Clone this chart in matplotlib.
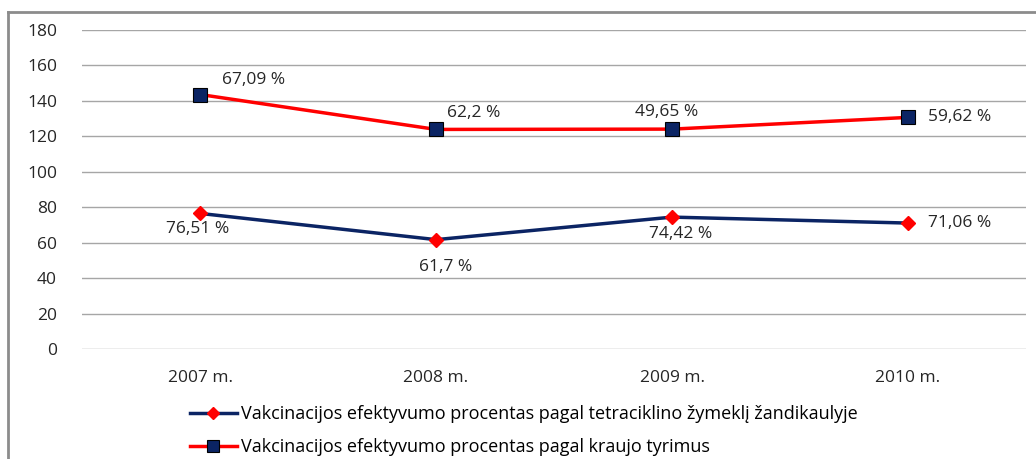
import numpy as np
import matplotlib.pyplot as plt
from matplotlib.lines import Line2D

plt.rcParams['font.family'] = ['Open Sans', 'DejaVu Sans']

# Duomenys
years = ['2007 m.', '2008 m.', '2009 m.', '2010 m.']
tetra = [76.51, 61.7, 74.42, 71.06]
kraujo = [67.09, 62.2, 49.65, 59.62]
tetra_labels = ['76,51 %', '61,7 %', '74,42 %', '71,06 %']
kraujo_labels = ['67,09 %', '62,2 %', '49,65 %', '59,62 %']
series_names = ['Vakcinacijos efektyvumo procentas pagal tetraciklino žymeklį žandikaulyje',
                'Vakcinacijos efektyvumo procentas pagal kraujo tyrimus']

x = np.arange(len(years))
stacked = np.array(tetra) + np.array(kraujo)

fig = plt.figure(figsize=(10.36, 4.59), dpi=100)
ax = fig.add_axes([82 / 1036, 1 - 349 / 459, 944 / 1036, 319 / 459])

navy = '#0b2464'
red = '#ff0000'
txt = '#262626'
fs = 12.5

ax.plot(x, tetra, color=navy, lw=2.5, marker='D', ms=7, mfc=red, mec=red, zorder=3)
ax.plot(x, stacked, color=red, lw=2.5, marker='s', ms=10, mfc=navy, mec='black', mew=0.8, zorder=3)

ax.set_xlim(-0.5, 3.5)
ax.set_ylim(0, 180)
ax.set_yticks(range(0, 181, 20))
ax.set_xticks(x)
ax.set_xticklabels(years)
ax.yaxis.grid(True, color='#a6a6a6', lw=1)
ax.set_axisbelow(True)
for s in ax.spines.values():
    s.set_visible(False)
ax.tick_params(length=0, labelsize=fs, colors=txt)
ax.tick_params(axis='y', pad=18)
ax.tick_params(axis='x', pad=15)

# Etiketės (poslinkis pikseliais: dx, dy, lygiavimas)
kr_pos = [(22, 15, 'left'), (11, 16, 'left'), (-5, 17, 'center'), (20, 0, 'left')]
te_pos = [(-2, -16, 'center'), (10, -27, 'center'), (9, -17, 'center'), (20, 0, 'left')]
for vals, labels, pos in [(stacked, kraujo_labels, kr_pos), (tetra, tetra_labels, te_pos)]:
    for i in range(4):
        dx, dy, ha = pos[i]
        ax.annotate(labels[i], (x[i], vals[i]), xytext=(dx * 0.72, dy * 0.72),
                    textcoords='offset points', ha=ha, va='center', fontsize=fs, color=txt)

handles = [Line2D([], [], color=navy, lw=2.5, marker='D', ms=6, mfc=red, mec=red),
           Line2D([], [], color=red, lw=2.5, marker='s', ms=8, mfc=navy, mec='black', mew=0.8)]
fig.legend(handles, series_names, loc='upper left', bbox_to_anchor=(190 / 1036, 1 - 405 / 459),
           frameon=False, fontsize=13, handlelength=2.6, handletextpad=0.2, labelspacing=0.85,
           borderaxespad=0, borderpad=0)

# Rėmelis
fig.add_artist(Line2D([8 / 1036, 8 / 1036], [0, 1 - 12 / 459], color='#8c8c8c', lw=2, transform=fig.transFigure))
fig.add_artist(Line2D([8 / 1036, 1], [1 - 12 / 459, 1 - 12 / 459], color='#8c8c8c', lw=2, transform=fig.transFigure))

fig.savefig('out.png', dpi=100)
